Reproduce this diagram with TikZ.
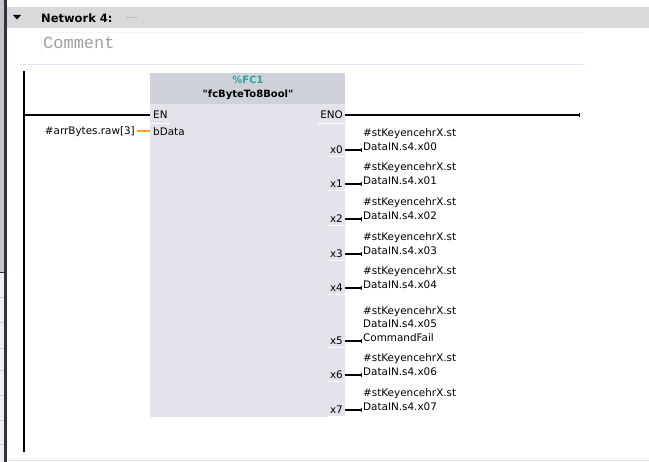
\documentclass[tikz,border=0pt]{standalone}
\usepackage{fontspec}
\setmainfont{DejaVu Sans}
\newfontfamily\commentfont{Liberation Mono}
\usetikzlibrary{arrows.meta}

\definecolor{bandgray}{HTML}{D9D9D9}
\definecolor{headgray}{HTML}{CFD1DA}
\definecolor{bodygray}{HTML}{E2E3EB}
\definecolor{fcteal}{HTML}{2AA5A5}
\definecolor{wireorange}{HTML}{F5A623}
\definecolor{railnavy}{HTML}{2B3242}
\definecolor{rulelav}{HTML}{E3E3F3}

\tikzset{
	pin/.style = {inner sep = 0pt, font = \fontsize{10.4}{13.5}\selectfont},
	opnd/.style = {pin, align = left, anchor = south west, text depth = 0pt},
	wire/.style = {line width = 1.4pt},
	pinrule/.style = {white, line width = 0.8pt},
}

\begin{document}
\begin{tikzpicture}[x = 1pt, y = -1pt]
	\useasboundingbox (0,0) rectangle (649,462);
	
	% window frame
	\fill[gray!45] (0,0) rectangle (4,273);
	\fill[gray!12] (0,273) rectangle (4,462);
	\foreach \y in {297, 322, 348, 370, 395, 420, 444} {
		\draw[gray!40] (0,\y) -- (4,\y);
	}
	\draw[railnavy, line width = 1pt] (0,273) -- (4,273);
	\fill[railnavy] (4,0) rectangle (6.5,462);
	
	% network title
	\fill[bandgray] (6.5,7) rectangle (649,28);
	\fill[black] (13,15) -- (21,15) -- (17,19.5) -- cycle;
	\node[inner sep = 0pt, anchor = west, font = \fontsize{11.5}{13}\selectfont\bfseries] (title) at (41,18) {Network 4:};
	\node[inner sep = 0pt, anchor = west, text = gray, font = \fontsize{7}{8}\selectfont] (dots) at (126,18) {.....};
	
	% comment
	\draw[gray!8] (41,55) -- (41,32) -- (585,32);
	\node[inner sep = 0pt, anchor = west, text = gray!75, font = \fontsize{17}{18}\commentfont] (comment) at (43,43) {Comment};
	\draw[rulelav] (20,64) -- (585,64);
	\draw[gray!25] (6.5,460) -- (649,460);
	
	% power rail
	\coordinate (railtop) at (24,71);
	\coordinate (railbot) at (24,452);
	\draw[line width = 1.6pt] (railtop) -- (railbot);
	
	% block
	\node[fill = bodygray, inner sep = 0pt, anchor = north west, minimum width = 195pt, minimum height = 344pt] (fc) at (150,73) {};
	\fill[headgray] (fc.north west) rectangle (345,104);
	\node[inner sep = 0pt, text = fcteal, font = \fontsize{10}{12}\selectfont\bfseries] (fcnum) at (248,80) {\%FC1};
	\node[inner sep = 0pt, font = \fontsize{10}{12}\selectfont\bfseries] (fcname) at (248,95) {\textquotedbl fcByteTo8Bool\textquotedbl};
	
	% enable
	\node[pin, anchor = west] (en) at (153,114.5) {EN};
	\node[pin, anchor = east] (eno) at (343,114.5) {ENO};
	\draw[pinrule] (150,123) -- ([xshift = 2pt]en.east |- 0,123);
	\draw[pinrule] ([xshift = -2pt]eno.west |- 0,123) -- (345,123);
	\coordinate (enrail) at (24,115);
	\coordinate (enin) at (150,115);
	\coordinate (enoout) at (345,115);
	\coordinate (enoend) at (580,115);
	\draw[wire] (enrail) -- (enin);
	\draw[wire, -{Bar[width = 4pt]}] (enoout) -- (enoend);
	
	% input
	\node[pin, anchor = west] (bdata) at (153,131.5) {bData};
	\node[pin, anchor = east] (arr) at (135,131.5) {\#arrBytes.raw[3]};
	\coordinate (bin) at (150,131);
	\draw[wireorange, wire] ([xshift = 2pt]arr.east |- bin) -- (bin);
	
	% outputs
	\foreach \i/\y/\txt in {0/150/{DataIN.s4.x00}, 1/184/{DataIN.s4.x01}, 2/219/{DataIN.s4.x02}, 3/254/{DataIN.s4.x03}, 4/288/{DataIN.s4.x04}, 5/341/{DataIN.s4.x05\\CommandFail}, 6/375/{DataIN.s4.x06}, 7/410/{DataIN.s4.x07}} {
		\node[pin, anchor = east] (x\i) at (343,\y) {x\i};
		\draw[pinrule] ([xshift = -2pt]x\i.west |- 0,\y+6) -- (345,\y+6);
		\coordinate (o\i) at (345,\y);
		\coordinate (e\i) at (362,\y);
		\draw[wire, -{Bar[width = 4pt]}] (o\i) -- (e\i);
		\node[opnd] (v\i) at (363,\y+0.5) {\#stKeyencehrX.st\\\txt};
	}
\end{tikzpicture}
\end{document}
